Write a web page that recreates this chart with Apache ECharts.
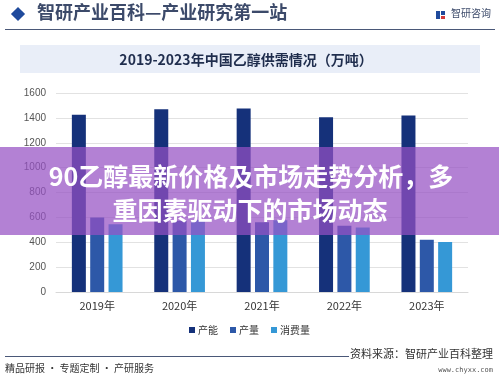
<!DOCTYPE html>
<html><head><meta charset="utf-8">
<script src="https://cdn.jsdelivr.net/npm/echarts@6/dist/echarts.min.js"></script>
<style>html,body{margin:0;padding:0;background:#fff}#c{width:499px;height:383px}</style>
</head><body><div id="c"></div>
<script>
const categories = ['2019年','2020年','2021年','2022年','2023年'];
const capacity = [1425, 1470, 1475, 1405, 1420];
const production = [598, 572, 560, 532, 420];
const consumption = [545, 578, 576, 518, 402];
const seriesNames = ['产能','产量','消费量'];
const yTicks = [0, 200, 400, 600, 800, 1000, 1200, 1400, 1600];

const CJK = '"Noto Sans CJK SC","Noto Sans",sans-serif';
const chart = echarts.init(document.getElementById('c'), null, {renderer:'canvas'});
chart.setOption({
  backgroundColor:'#fff',
  animation:false,
  color:['#15317a','#2d58a8','#3598d6'],
  grid:{left:56,right:31,top:93,bottom:91},
  legend:{
    data:seriesNames, top:320, left:'center', icon:'rect',
    itemWidth:6, itemHeight:6, itemGap:12,
    textStyle:{fontSize:10, color:'#333', fontFamily:CJK, padding:[0,0,0,-2]}
  },
  xAxis:{
    type:'category', data:categories,
    axisLine:{lineStyle:{color:'#d8d8d8'}}, axisTick:{show:false},
    axisLabel:{fontSize:11, color:'#333', fontFamily:CJK, margin:8}
  },
  yAxis:{
    type:'value', min:yTicks[0], max:yTicks[yTicks.length-1], interval:200,
    axisLine:{show:false}, axisTick:{show:false},
    axisLabel:{fontSize:10, color:'#555', fontFamily:'Arial, "Liberation Sans", sans-serif', margin:10, formatter:function(v){return String(v);}},
    splitLine:{lineStyle:{color:'#e2e2e2'}}
  },
  series:[
    {name:seriesNames[0], type:'bar', data:capacity, barWidth:14, barGap:'31%', barCategoryGap:'38%'},
    {name:seriesNames[1], type:'bar', data:production, barWidth:14, barGap:'31%'},
    {name:seriesNames[2], type:'bar', data:consumption, barWidth:14, barGap:'31%'}
  ],
  graphic:[
    {type:'rect', shape:{x:-5,y:-5,width:10,height:10}, x:18, y:14, rotation:Math.PI/4, style:{fill:'#1f4a9c'}},
    {type:'text', left:37, top:3, style:{text:'智研产业百科—产业研究第一站', font:'bold 18px "Noto Sans CJK SC"', fill:'#3c4a6a'}},
    {type:'rect', shape:{x:436,y:11,width:4,height:8}, style:{fill:'#1f4a9c'}},
    {type:'rect', shape:{x:441,y:11,width:4,height:4}, style:{fill:'#1f4a9c'}},
    {type:'rect', shape:{x:441,y:16,width:4,height:3}, style:{fill:'#d23a3a'}},
    {type:'text', left:451, top:8, style:{text:'智研咨询', font:'10px "Noto Sans CJK SC"', fill:'#3c4a6a'}},
    {type:'line', shape:{x1:5,y1:29.5,x2:495,y2:29.5}, style:{stroke:'#4a5878', lineWidth:1.2}},
    {type:'rect', shape:{x:20,y:45,width:460,height:28}, style:{fill:'#e9eef8'}},
    {type:'text', x:246, y:60, style:{text:'2019-2023年中国乙醇供需情况（万吨）', font:'bold 14px "Noto Sans CJK SC"', fill:'#1f2d4d', textAlign:'center', textVerticalAlign:'middle'}},
    {type:'line', shape:{x1:5,y1:356.5,x2:349,y2:356.5}, style:{stroke:'#4a5878', lineWidth:1}},
    {type:'text', right:6, top:348, style:{text:'资料来源：智研产业百科整理', font:'11px "Noto Sans CJK SC"', fill:'#333'}},
    {type:'text', right:6, top:367, style:{text:'www.chyxx.com', font:'7px "DejaVu Sans Mono"', fill:'#555'}},
    {type:'text', left:5, top:363, style:{text:'精品研报 · 专题定制 · 产研服务', font:'10px "Noto Sans CJK SC"', fill:'#333'}},
    {type:'rect', z:100, shape:{x:0,y:147,width:499,height:88}, style:{fill:'rgba(150,80,195,0.72)'}},
    {type:'text', z:101, x:251, y:176, style:{text:'90乙醇最新价格及市场走势分析，多', font:'bold 25px "Noto Sans CJK SC"', fill:'#fff', textAlign:'center', textVerticalAlign:'middle'}},
    {type:'text', z:101, x:250, y:210, style:{text:'重因素驱动下的市场动态', font:'bold 25px "Noto Sans CJK SC"', fill:'#fff', textAlign:'center', textVerticalAlign:'middle'}}
  ]
});
</script></body></html>
